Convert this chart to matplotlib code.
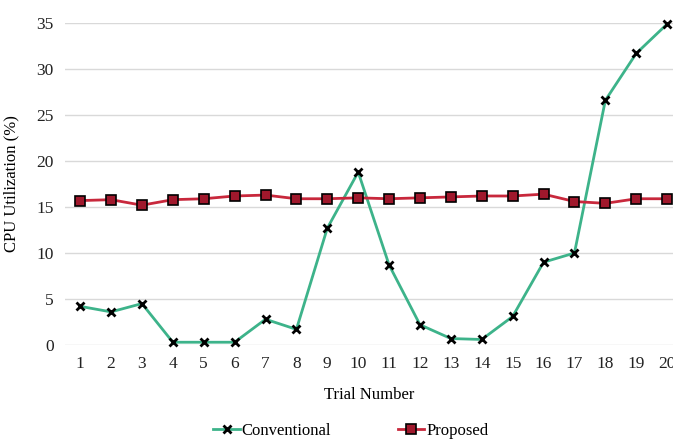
import numpy as np
import matplotlib.pyplot as plt

# data
trials = list(range(1, 21))
conventional = [4.2, 3.6, 4.5, 0.3, 0.3, 0.3, 2.8, 1.7, 12.7, 18.8,
                8.7, 2.2, 0.7, 0.6, 3.1, 9.0, 10.0, 26.6, 31.7, 34.9]
proposed = [15.7, 15.8, 15.2, 15.8, 15.9, 16.2, 16.3, 15.9, 15.9, 16.0,
            15.9, 16.0, 16.1, 16.2, 16.2, 16.4, 15.6, 15.4, 15.9, 15.9]
yticks = [0, 5, 10, 15, 20, 25, 30, 35]

plt.rcParams['font.family'] = ['Liberation Serif', 'DejaVu Serif']

fig = plt.figure(figsize=(6.73, 4.44), dpi=100)
ax = fig.add_axes([0.0966, 0.223, 0.9034, 0.725])

ax.plot(trials, conventional, color="#3DB38A", lw=2, marker="x", ms=6,
        mec="black", mew=2, label="Conventional", clip_on=False, zorder=3)
ax.plot(trials, proposed, color="#C8283C", lw=2, marker="s", ms=7,
        mfc="#A0182C", mec="black", mew=1.2, label="Proposed", clip_on=False, zorder=3)

ax.set_xlim(0.51, 20.19)
ax.set_ylim(0, 35)
ax.set_xticks(trials)
ax.set_yticks(yticks)
ax.tick_params(length=0, labelsize=12.5, colors="#222222", pad=8)
ax.grid(axis="y", color="#D9D9D9", lw=1)
ax.set_axisbelow(True)
for s in ax.spines.values():
    s.set_visible(False)

ax.set_xlabel("Trial Number", fontsize=12, labelpad=11)
ax.set_ylabel("CPU Utilization (%)", fontsize=12, labelpad=12)
ax.legend(loc="upper center", bbox_to_anchor=(0.47, -0.205), ncol=2, frameon=False,
          fontsize=12, handlelength=1.6, handletextpad=0.1, columnspacing=4,
          borderpad=0.2)

fig.savefig("out.png", dpi=100)
